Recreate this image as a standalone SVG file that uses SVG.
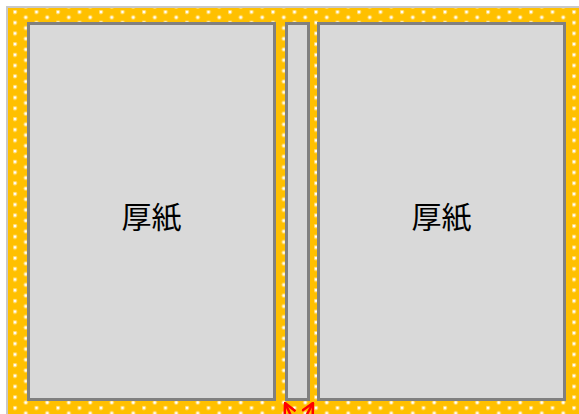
<svg xmlns="http://www.w3.org/2000/svg" width="579" height="414" viewBox="0 0 579 414">
<style>
.panel{fill:#d9d9d9;stroke:#808080;stroke-width:3}
.lbl{font-family:"Noto Sans CJK JP","Noto Sans CJK SC",sans-serif;font-size:30px;fill:#000;text-anchor:middle;dominant-baseline:central}
.arr{stroke:#ff0000;stroke-width:2.5;fill:none;marker-end:url(#ah)}
</style>
<defs>
<pattern id="dots" patternUnits="userSpaceOnUse" x="13" y="10" width="21.5" height="10.7">
<rect width="21.5" height="10.7" fill="#ffc000"/>
<circle cx="2" cy="2" r="2.3" fill="#fff" opacity="0.4"/>
<circle cx="2" cy="2" r="1.3" fill="#fff"/>
<circle cx="12.75" cy="7.35" r="2.3" fill="#fff" opacity="0.4"/>
<circle cx="12.75" cy="7.35" r="1.3" fill="#fff"/>
</pattern>
<marker id="ah" viewBox="0 0 14 14" refX="13" refY="7" markerWidth="14" markerHeight="14" orient="auto" markerUnits="userSpaceOnUse">
<path d="M1,1 L13,7 L1,13" fill="none" stroke="#ff0000" stroke-width="2.5"/>
</marker>
</defs>
<rect x="7" y="7" width="580" height="420" fill="url(#dots)" stroke="#c8c8c8" stroke-width="2"/>
<g id="left-board">
<rect class="panel" x="28.5" y="23.5" width="246" height="376"/>
<text class="lbl" x="151.5" y="215">厚紙</text>
</g>
<g id="spine">
<rect class="panel" x="286.5" y="23.5" width="22" height="376"/>
</g>
<g id="right-board">
<rect class="panel" x="318.5" y="23.5" width="246" height="376"/>
<text class="lbl" x="441.5" y="215">厚紙</text>
</g>
<g id="connectors">
<line class="arr" x1="293" y1="420" x2="285" y2="403"/>
<line class="arr" x1="304" y1="420" x2="313" y2="403"/>
</g>
</svg>
